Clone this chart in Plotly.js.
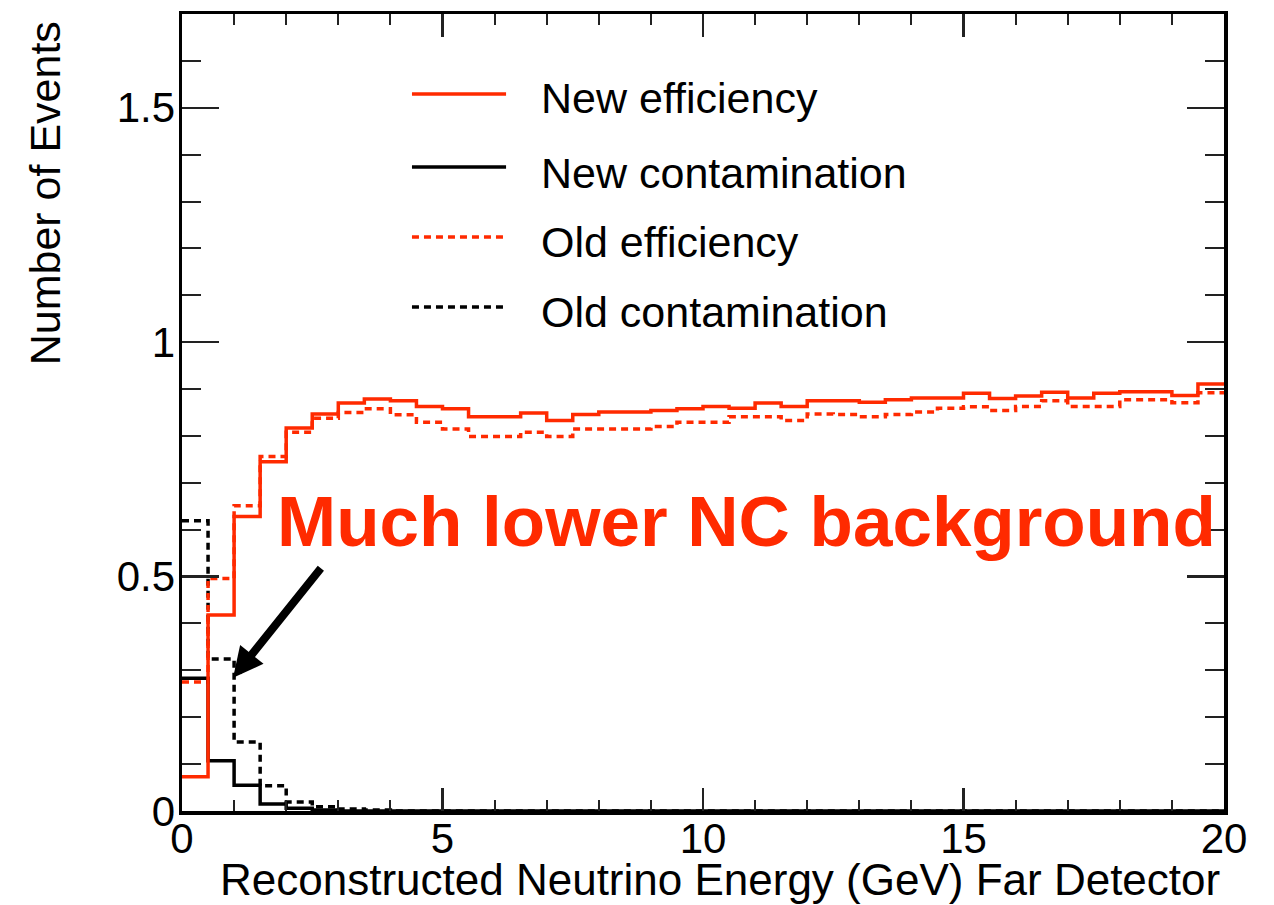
<!DOCTYPE html>
<html>
<head>
<meta charset="utf-8">
<script src="https://cdn.plot.ly/plotly-3.0.1.min.js"></script>
<style>
  html, body { margin: 0; padding: 0; background: #fff; }
  #chart { width: 1274px; height: 905px; }
</style>
</head>
<body>
<div id="chart"></div>
<script>
// Far Detector selection: efficiency and NC contamination per 0.5 GeV bin, 0-20 GeV
const binWidth = 0.5;

const newEfficiency = [
  0.073, 0.418, 0.628, 0.745, 0.817, 0.847, 0.870, 0.879, 0.875, 0.863,
  0.858, 0.841, 0.841, 0.849, 0.833, 0.846, 0.851, 0.851, 0.854, 0.858,
  0.863, 0.859, 0.870, 0.863, 0.875, 0.875, 0.872, 0.877, 0.881, 0.881,
  0.891, 0.880, 0.885, 0.893, 0.881, 0.891, 0.894, 0.894, 0.886, 0.911
];

const oldEfficiency = [
  0.275, 0.496, 0.651, 0.756, 0.808, 0.838, 0.850, 0.858, 0.845, 0.829,
  0.815, 0.799, 0.799, 0.808, 0.799, 0.815, 0.815, 0.815, 0.820, 0.829,
  0.829, 0.841, 0.841, 0.833, 0.847, 0.846, 0.841, 0.846, 0.851, 0.859,
  0.862, 0.854, 0.863, 0.875, 0.863, 0.863, 0.877, 0.877, 0.871, 0.892
];

const newContamination = [
  0.283, 0.107, 0.055, 0.015, 0.006, 0.002, 0, 0, 0, 0,
  0, 0, 0, 0, 0, 0, 0, 0, 0, 0,
  0, 0, 0, 0, 0, 0, 0, 0, 0, 0,
  0, 0, 0, 0, 0, 0, 0, 0, 0, 0
];

const oldContamination = [
  0.619, 0.324, 0.147, 0.054, 0.019, 0.009, 0.004, 0.002, 0, 0,
  0, 0, 0, 0, 0, 0, 0, 0, 0, 0,
  0, 0, 0, 0, 0, 0, 0, 0, 0, 0,
  0, 0, 0, 0, 0, 0, 0, 0, 0, 0
];

const seriesNames = ['New efficiency', 'New contamination', 'Old efficiency', 'Old contamination'];
const xTitle = 'Reconstructed Neutrino Energy (GeV) Far Detector';
const yTitle = 'Number of Events';
const callout = 'Much lower NC background';

const RED = '#ff2a00';
const FONT = 'Liberation Sans, Arial, sans-serif';

// ROOT-style step histogram: each bin drawn flat across its width
function stepTrace(values, name, color, dash) {
  const x = values.map((_, i) => i * binWidth);
  x.push(values.length * binWidth);
  const y = values.slice();
  y.push(values[values.length - 1]);
  return {
    type: 'scatter', mode: 'lines', name: name,
    x: x, y: y,
    line: { shape: 'hv', color: color, width: 3.5, dash: dash },
    showlegend: false, hoverinfo: 'skip'
  };
}

const styles = [
  { vals: newEfficiency, color: RED, dash: 'solid' },
  { vals: newContamination, color: '#000', dash: 'solid' },
  { vals: oldEfficiency, color: RED, dash: '7px,5px' },
  { vals: oldContamination, color: '#000', dash: '7px,5px' }
];

// draw the dotted histograms under the solid ones
const order = [3, 2, 1, 0];
const traces = order.map(i => stepTrace(styles[i].vals, seriesNames[i], styles[i].color, styles[i].dash));

// legend box: sample line + label per series (paper coordinates)
const legendLineY = [0.8996, 0.808, 0.7202, 0.6324];
const legendTextY = [0.895, 0.800, 0.714, 0.626];
const shapes = [];
const annotations = [];
seriesNames.forEach((name, i) => {
  shapes.push({
    type: 'line', xref: 'paper', yref: 'paper',
    x0: 0.2207, x1: 0.311, y0: legendLineY[i], y1: legendLineY[i],
    line: { color: styles[i].color, width: 3.5, dash: styles[i].dash }
  });
  annotations.push({
    xref: 'paper', yref: 'paper', x: 0.3425, y: legendTextY[i],
    xanchor: 'left', yanchor: 'middle', showarrow: false,
    text: name, font: { family: FONT, size: 43, color: '#000' }
  });
});

// axis titles, right/top aligned as in ROOT
annotations.push({
  xref: 'paper', yref: 'paper', x: 0.998, y: -0.0855,
  xanchor: 'right', yanchor: 'middle', showarrow: false,
  text: xTitle, font: { family: FONT, size: 44, color: '#000' }
});
annotations.push({
  xref: 'paper', yref: 'paper', x: -0.1315, y: 0.775,
  xanchor: 'center', yanchor: 'middle', showarrow: false, textangle: -90,
  text: yTitle, font: { family: FONT, size: 43, color: '#000' }
});

// callout text and arrow pointing at the old contamination step
annotations.push({
  xref: 'paper', yref: 'paper', x: 0.5418, y: 0.363,
  xanchor: 'center', yanchor: 'middle', showarrow: false,
  text: callout, font: { family: FONT, size: 71, color: RED, weight: 'bold' }
});
annotations.push({
  xref: 'x', yref: 'y', x: 0.98, y: 0.284,
  ax: 89, ay: -111, text: '', showarrow: true,
  arrowhead: 2, arrowwidth: 8, arrowsize: 0.75, arrowcolor: '#000'
});

const axisCommon = {
  showgrid: false, zeroline: false,
  showline: true, linecolor: '#000', linewidth: 3.5, mirror: 'ticks',
  ticks: 'inside', tickcolor: '#222', tickwidth: 2.5,
  tickfont: { family: FONT, size: 42, color: '#000' }
};

const layout = {
  width: 1274, height: 905,
  margin: { l: 182, r: 50, t: 14, b: 94, pad: 0 },
  paper_bgcolor: '#fff', plot_bgcolor: '#fff',
  showlegend: false,
  xaxis: Object.assign({}, axisCommon, {
    range: [0, 20], tick0: 0, dtick: 5, ticklen: 23,
    ticklabelstandoff: -12,
    minor: { dtick: 1, ticklen: 11, tickwidth: 2, tickcolor: '#222', ticks: 'inside' }
  }),
  yaxis: Object.assign({}, axisCommon, {
    range: [0, 1.7], tick0: 0, dtick: 0.5, ticklen: 37,
    ticklabelstandoff: -5,
    minor: { dtick: 0.1, ticklen: 19, tickwidth: 2, tickcolor: '#222', ticks: 'inside' }
  }),
  shapes: shapes,
  annotations: annotations
};

Plotly.newPlot('chart', traces, layout, { displayModeBar: false, staticPlot: true });
</script>
</body>
</html>
